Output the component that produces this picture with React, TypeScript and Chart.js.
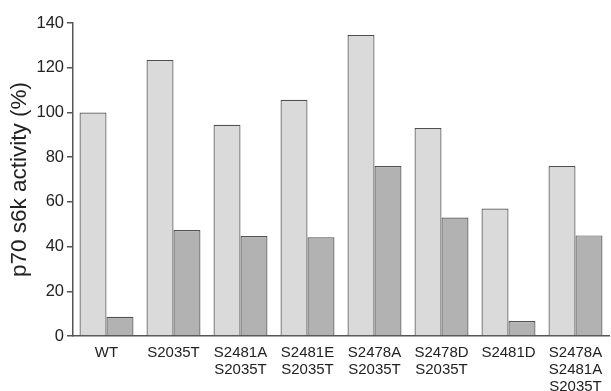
import React, { useEffect, useRef } from "react";
import { Chart, registerables } from "chart.js";

Chart.register(...registerables);

const categories: string[][] = [
  ["WT"],
  ["S2035T"],
  ["S2481A", "S2035T"],
  ["S2481E", "S2035T"],
  ["S2478A", "S2035T"],
  ["S2478D", "S2035T"],
  ["S2481D"],
  ["S2478A", "S2481A", "S2035T"],
];
const lightSeries = [100, 123.5, 94.5, 105.7, 134.6, 93, 57, 76];
const darkSeries = [8.6, 47.4, 44.7, 44.2, 76, 53, 6.7, 45];
const yTicks = [0, 20, 40, 60, 80, 100, 120, 140];
const yTitle = "p70 s6k activity (%)";

export default function App() {
  const ref = useRef<HTMLCanvasElement>(null);
  useEffect(() => {
    document.body.style.margin = "0";
    const ctx = ref.current!;
    const chart = new Chart(ctx, {
      type: "bar",
      data: {
        labels: categories,
        datasets: [
          {
            data: lightSeries,
            backgroundColor: "rgb(218,218,218)",
            borderColor: "#505050",
            borderWidth: 1.2,
            categoryPercentage: 0.805,
            barPercentage: 1.0,
          },
          {
            data: darkSeries,
            backgroundColor: "rgb(178,178,178)",
            borderColor: "#505050",
            borderWidth: 1.2,
            categoryPercentage: 0.805,
            barPercentage: 1.0,
          },
        ],
      },
      options: {
        animation: false,
        responsive: false,
        maintainAspectRatio: false,
        layout: { padding: { top: 23, right: 2, left: 0, bottom: 0 } },
        plugins: { legend: { display: false }, tooltip: { enabled: false } },
        scales: {
          x: {
            grid: { display: false },
            border: { display: true, color: "#555", width: 1.5 },
            ticks: {
              color: "#222",
              font: { family: "Liberation Sans", size: 15, lineHeight: 1.15 },
              maxRotation: 0,
              autoSkip: false,
              padding: 0,
            },
            afterFit: (s: any) => {
              s.height = 55;
            },
          },
          y: {
            min: 0,
            max: 140,
            afterBuildTicks: (s: any) => {
              s.ticks = yTicks.map((v) => ({ value: v }));
            },
            grid: {
              drawOnChartArea: false,
              drawTicks: true,
              tickLength: 6,
              color: "#555",
              lineWidth: 1.5,
            },
            border: { display: true, color: "#555", width: 1.5 },
            ticks: {
              color: "#222",
              font: { family: "Liberation Sans", size: 16.5 },
              padding: 3,
            },
            title: {
              display: true,
              text: yTitle,
              color: "#222",
              font: { family: "Liberation Sans", size: 22.5 },
              padding: { top: 6, bottom: 4 },
            },
            afterFit: (s: any) => {
              s.width = 73;
            },
          },
        },
      },
    });
    return () => chart.destroy();
  }, []);
  return (
    <div style={{ width: 611, height: 391, background: "#fff" }}>
      <canvas ref={ref} width={611} height={391} />
    </div>
  );
}
